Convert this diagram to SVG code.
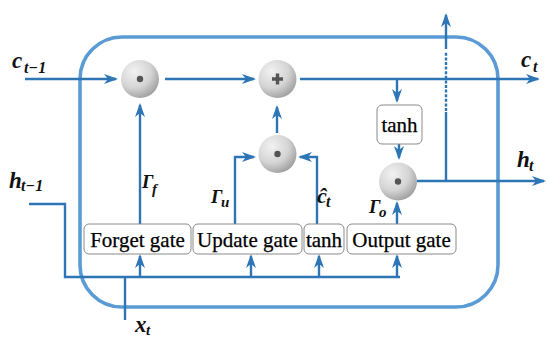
<svg xmlns="http://www.w3.org/2000/svg" width="547" height="340" viewBox="0 0 547 340">
  <style>
    .wire { fill: none; stroke: #2e75b6; stroke-width: 2.4; }
    .arr { marker-end: url(#head); }
    .cell { fill: none; stroke: #5b9bd5; stroke-width: 3.6; }
    .box { fill: #ffffff; stroke: #8a8a8a; stroke-width: 1; }
    .lbl { font-family: "Liberation Serif", "Times New Roman", serif; font-size: 21px; fill: #000; text-anchor: middle; stroke: #000; stroke-width: 0.25; }
    .math { font-family: "Liberation Serif", "Times New Roman", serif; font-style: italic; font-weight: bold; fill: #111; }
    .op { fill: url(#ball); }
    .mark { fill: #555555; }
  </style>
  <defs>
    <radialGradient id="ball" cx="0.35" cy="0.3" r="0.8">
      <stop offset="0" stop-color="#f2f2f2"/>
      <stop offset="0.55" stop-color="#d4d4d4"/>
      <stop offset="1" stop-color="#959595"/>
    </radialGradient>
    <marker id="head" viewBox="0 0 14 10" refX="12" refY="5" markerWidth="14" markerHeight="10" markerUnits="userSpaceOnUse" orient="auto">
      <path d="M0,0 L14,5 L0,10 L4,5 z" fill="#2e75b6"/>
    </marker>
  </defs>

  <!-- LSTM cell outline -->
  <rect class="cell" x="80" y="37" width="418" height="270" rx="42" ry="42"/>

  <!-- connectors -->
  <g id="connectors">
    <!-- cell state path -->
    <path class="wire arr" d="M25,79 H116"/>
    <path class="wire arr" d="M165,79 H254"/>
    <path class="wire arr" d="M300,79 H538"/>
    <path class="wire arr" d="M397,79 V101"/>
    <path class="wire arr" d="M399,144 V158"/>
    <!-- hidden state output -->
    <path class="wire arr" d="M417,181 H544"/>
    <path class="wire" d="M446,181 V112"/>
    <path class="wire" d="M446,111 V52" stroke-dasharray="3,1.6"/>
    <path class="wire arr" d="M446,49 V15"/>
    <!-- inputs h(t-1) and x(t) -->
    <path class="wire" d="M29,204 H65 V277 H400"/>
    <path class="wire" d="M125,277 V320"/>
    <!-- feeds into the gates -->
    <path class="wire arr" d="M140,277 V256"/>
    <path class="wire arr" d="M251,277 V256"/>
    <path class="wire arr" d="M319,277 V256"/>
    <path class="wire arr" d="M397,277 V256"/>
    <!-- gate outputs -->
    <path class="wire arr" d="M140,224 V105"/>
    <path class="wire arr" d="M235,224 V157 H254"/>
    <path class="wire arr" d="M317,224 V157 H300"/>
    <path class="wire arr" d="M277,133 V107"/>
    <path class="wire arr" d="M397,224 V203"/>
  </g>

  <!-- pointwise operators -->
  <g id="mul-forget">
    <circle class="op" cx="140" cy="79" r="19"/>
    <circle class="mark" cx="140" cy="79" r="3.2"/>
  </g>
  <g id="add-cell">
    <circle class="op" cx="277.5" cy="79" r="19"/>
    <path class="mark" d="M272,77.3 H275.8 V73.5 H279.2 V77.3 H283 V80.7 H279.2 V84.5 H275.8 V80.7 H272 z"/>
  </g>
  <g id="mul-update">
    <circle class="op" cx="277.5" cy="154" r="19"/>
    <circle class="mark" cx="277.5" cy="154" r="3.2"/>
  </g>
  <g id="mul-output">
    <circle class="op" cx="398" cy="181.5" r="19"/>
    <circle class="mark" cx="398" cy="181.5" r="3.2"/>
  </g>

  <!-- tanh on the cell state -->
  <g id="tanh-cell">
    <rect class="box" x="377" y="105" width="45" height="39" rx="5"/>
    <text class="lbl" x="399.5" y="132">tanh</text>
  </g>

  <!-- gates -->
  <g id="forget-gate">
    <rect class="box" x="84" y="224" width="107" height="30" rx="5"/>
    <text class="lbl" x="137.5" y="247">Forget gate</text>
  </g>
  <g id="update-gate">
    <rect class="box" x="193" y="224" width="109" height="30" rx="5"/>
    <text class="lbl" x="247.5" y="247">Update gate</text>
  </g>
  <g id="tanh-candidate">
    <rect class="box" x="304" y="224" width="40" height="30" rx="5"/>
    <text class="lbl" x="324" y="247">tanh</text>
  </g>
  <g id="output-gate">
    <rect class="box" x="347" y="224" width="109" height="30" rx="5"/>
    <text class="lbl" x="401.5" y="247">Output gate</text>
  </g>

  <!-- signal labels -->
  <g id="labels">
    <text class="math" x="12" y="68" font-size="23">c<tspan x="24" y="73" font-size="16">t−1</tspan></text>
    <text class="math" x="521" y="67" font-size="23">c<tspan x="533" y="72" font-size="16">t</tspan></text>
    <text class="math" x="517" y="167" font-size="23">h<tspan x="529" y="171" font-size="16">t</tspan></text>
    <text class="math" x="9" y="188" font-size="23">h<tspan x="21" y="191" font-size="16">t−1</tspan></text>
    <text class="math" x="135" y="332" font-size="23">x<tspan x="146" y="335" font-size="15">t</tspan></text>
    <text class="math" x="142" y="188" font-size="19">Γ<tspan x="152" y="194" font-size="15">f</tspan></text>
    <text class="math" x="211" y="203" font-size="19">Γ<tspan x="221" y="207" font-size="15">u</tspan></text>
    <text class="math" x="317" y="203" font-size="22">ĉ<tspan x="326" y="207" font-size="16">t</tspan></text>
    <text class="math" x="369" y="213" font-size="19">Γ<tspan x="379" y="217" font-size="15">o</tspan></text>
  </g>
</svg>
